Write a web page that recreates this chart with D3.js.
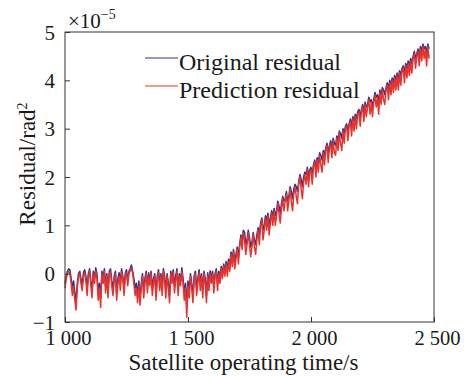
<!DOCTYPE html>
<html>
<head>
<meta charset="utf-8">
<script src="https://cdn.jsdelivr.net/npm/d3@7"></script>
<style>
  body { margin: 0; background: #fff; }
  text { font-family: "Liberation Serif", "Times New Roman", serif; fill: #1a1a1a; }
</style>
</head>
<body>
<div id="chart"></div>
<script>
// Time axis (s), sampled every 5 s
const times = d3.range(1000, 2481, 5);

// Residual values in units of 1e-5 rad^2
const originalResidual = [
  -0.2, -0.05, 0.05, 0.1, 0.08, -0.1, -0.3, -0.15, -0.4, -0.55,
  -0.2, 0.0, 0.05, -0.1, -0.25, 0.02, 0.08, -0.05, -0.3, 0.0,
  0.1, -0.15, -0.35, 0.05, -0.1, 0.12, 0.0, -0.4, -0.2, -0.5,
  0.05, -0.1, 0.1, -0.25, 0.0, -0.35, 0.05, 0.1, -0.15, -0.3,
  -0.05, 0.05, -0.4, -0.1, 0.02, -0.2, 0.1, -0.05, -0.3, 0.0,
  0.08, -0.15, 0.05, 0.1, 0.18, 0.05, -0.1, -0.3, -0.2, -0.45,
  -0.15, -0.5, -0.2, 0.0, -0.35, -0.1, 0.05, -0.25, 0.02, -0.15,
  0.05, -0.3, -0.1, 0.0, -0.4, -0.05, 0.08, -0.2, 0.0, -0.3,
  0.1, -0.05, -0.35, 0.0, -0.2, -0.45, 0.05, -0.1, 0.08, -0.25,
  -0.05, 0.1, -0.3, 0.0, -0.15, 0.12, -0.1, -0.4, -0.2, -0.65,
  -0.15, -0.35, 0.0, -0.2, -0.45, -0.05, 0.05, -0.3, -0.1, 0.08,
  -0.2, 0.0, -0.35, 0.05, -0.1, -0.45, 0.02, -0.2, 0.06, -0.1,
  0.05, -0.25, 0.0, 0.1, -0.2, 0.05, -0.1, 0.15, 0.0, 0.2,
  0.05, 0.25, 0.1, 0.3, 0.2, 0.45, 0.3, 0.5, 0.25, 0.4,
  0.55, 0.35, 0.6, 0.8, 0.65, 0.9, 0.85, 0.6, 0.7, 0.9,
  0.75, 0.55, 0.65, 0.85, 0.7, 0.6, 0.8, 0.95, 0.8, 1.05,
  1.15, 0.9, 1.0, 1.2, 1.1, 1.25, 1.0, 1.15, 1.3, 1.2,
  1.35, 1.2, 1.3, 1.5, 1.4, 1.25, 1.45, 1.6, 1.5, 1.55,
  1.7, 1.5, 1.6, 1.8, 1.7, 1.55, 1.75, 1.85, 1.8, 1.7,
  1.9, 2.05, 1.95, 1.8, 2.0, 2.1, 2.05, 2.2, 2.0, 2.15,
  2.2, 2.05, 2.25, 2.35, 2.2, 2.4, 2.3, 2.5, 2.45, 2.35,
  2.55, 2.45, 2.6, 2.7, 2.5, 2.65, 2.75, 2.6, 2.8, 2.7,
  2.65, 2.85, 2.75, 2.95, 2.9, 2.8, 3.0, 2.9, 3.05, 3.1,
  2.95, 3.1, 3.2, 3.05, 3.25, 3.15, 3.3, 3.2, 3.35, 3.4,
  3.25, 3.4, 3.5, 3.35, 3.55, 3.45, 3.5, 3.65, 3.55, 3.6,
  3.45, 3.6, 3.75, 3.65, 3.7, 3.55, 3.8, 3.7, 3.85, 3.8,
  3.7, 3.85, 3.95, 3.8, 4.0, 3.9, 4.05, 3.95, 4.1, 4.0,
  4.15, 4.0, 4.2, 4.1, 4.25, 4.3, 4.15, 4.35, 4.25, 4.4,
  4.3, 4.45, 4.35, 4.5, 4.6, 4.45, 4.55, 4.65, 4.5, 4.7,
  4.6, 4.75, 4.65, 4.7, 4.55, 4.75, 4.65
];

const predictionResidual = [
  -0.3, -0.1, 0.0, 0.05, 0.0, -0.2, -0.45, -0.25, -0.55, -0.75,
  -0.3, -0.05, 0.0, -0.2, -0.35, -0.05, 0.02, -0.15, -0.45, -0.05,
  0.05, -0.25, -0.5, 0.0, -0.2, 0.05, -0.1, -0.55, -0.3, -0.7,
  0.0, -0.2, 0.05, -0.4, -0.05, -0.5, 0.0, 0.05, -0.25, -0.45,
  -0.15, 0.0, -0.55, -0.2, -0.05, -0.35, 0.05, -0.1, -0.45, -0.05,
  0.02, -0.25, 0.0, 0.05, 0.12, 0.0, -0.2, -0.45, -0.3, -0.6,
  -0.25, -0.65, -0.3, -0.05, -0.5, -0.2, 0.0, -0.4, -0.05, -0.25,
  0.0, -0.45, -0.2, -0.05, -0.55, -0.15, 0.02, -0.35, -0.05, -0.45,
  0.05, -0.15, -0.5, -0.05, -0.3, -0.6, 0.0, -0.2, 0.02, -0.4,
  -0.15, 0.05, -0.45, -0.05, -0.25, 0.05, -0.2, -0.55, -0.3, -0.9,
  -0.25, -0.5, -0.05, -0.3, -0.6, -0.15, 0.0, -0.45, -0.2, 0.02,
  -0.35, -0.05, -0.5, 0.0, -0.2, -0.6, -0.05, -0.35, 0.0, -0.2,
  0.0, -0.4, -0.05, 0.05, -0.35, 0.0, -0.2, 0.1, -0.1, 0.15,
  -0.05, 0.2, -0.05, 0.25, 0.05, 0.4, 0.15, 0.45, 0.1, 0.3,
  0.5, 0.2, 0.55, 0.75, 0.5, 0.85, 0.7, 0.4, 0.6, 0.85,
  0.6, 0.35, 0.55, 0.8, 0.55, 0.4, 0.7, 0.9, 0.6, 1.0,
  1.1, 0.7, 0.9, 1.15, 0.9, 1.2, 0.8, 1.05, 1.25, 1.0,
  1.3, 1.0, 1.2, 1.45, 1.25, 1.05, 1.35, 1.55, 1.3, 1.5,
  1.65, 1.3, 1.5, 1.75, 1.5, 1.3, 1.65, 1.8, 1.6, 1.45,
  1.85, 2.0, 1.75, 1.55, 1.9, 2.05, 1.85, 2.15, 1.8, 2.1,
  2.15, 1.85, 2.2, 2.3, 2.0, 2.35, 2.1, 2.45, 2.25, 2.1,
  2.5, 2.25, 2.55, 2.65, 2.3, 2.6, 2.7, 2.4, 2.75, 2.5,
  2.45, 2.8, 2.55, 2.9, 2.7, 2.55, 2.95, 2.7, 3.0, 3.05,
  2.75, 3.05, 3.15, 2.85, 3.2, 2.95, 3.25, 3.0, 3.3, 3.35,
  3.05, 3.35, 3.45, 3.15, 3.5, 3.25, 3.45, 3.6, 3.3, 3.55,
  3.25, 3.55, 3.7, 3.45, 3.65, 3.3, 3.75, 3.5, 3.8, 3.6,
  3.5, 3.8, 3.9, 3.6, 3.95, 3.7, 4.0, 3.75, 4.05, 3.8,
  4.1, 3.8, 4.15, 3.9, 4.2, 4.25, 3.95, 4.3, 4.05, 4.35,
  4.1, 4.4, 4.15, 4.45, 4.55, 4.25, 4.5, 4.6, 4.3, 4.65,
  4.4, 4.7, 4.45, 4.65, 4.3, 4.7, 4.45
];

const xTicks = [1000, 1500, 2000, 2500];
const xTickLabels = ["1 000", "1 500", "2 000", "2 500"];
const yTicks = [-1, 0, 1, 2, 3, 4, 5];
const yTickLabels = ["\u22121", "0", "1", "2", "3", "4", "5"];

const width = 468, height = 376;
const margin = { top: 32, right: 34, bottom: 54, left: 65 };
const innerW = width - margin.left - margin.right;
const innerH = height - margin.top - margin.bottom;

const svg = d3.select("#chart")
  .append("svg")
  .attr("width", width)
  .attr("height", height);

const g = svg.append("g")
  .attr("transform", `translate(${margin.left},${margin.top})`);

const x = d3.scaleLinear().domain([1000, 2500]).range([0, innerW]);
const y = d3.scaleLinear().domain([-1, 5]).range([innerH, 0]);

// Series lines
const line = d3.line()
  .x((d, i) => x(times[i]))
  .y(d => y(d));

g.append("path")
  .datum(originalResidual)
  .attr("fill", "none")
  .attr("stroke", "#2a358f")
  .attr("stroke-width", 1.5)
  .attr("stroke-linejoin", "round")
  .attr("d", line);

g.append("path")
  .datum(predictionResidual)
  .attr("fill", "none")
  .attr("stroke", "#e8332c")
  .attr("stroke-width", 1.5)
  .attr("stroke-linejoin", "round")
  .attr("d", line);

// Box
g.append("rect")
  .attr("x", 0).attr("y", 0)
  .attr("width", innerW).attr("height", innerH)
  .attr("fill", "none")
  .attr("stroke", "#333")
  .attr("stroke-width", 1);

// Axes with inward ticks
const xAxis = d3.axisBottom(x)
  .tickValues(xTicks)
  .tickSize(-5)
  .tickFormat((d, i) => xTickLabels[i]);

const yAxis = d3.axisLeft(y)
  .tickValues(yTicks)
  .tickSize(-5)
  .tickFormat((d, i) => yTickLabels[i]);

const gx = g.append("g")
  .attr("transform", `translate(0,${innerH})`)
  .call(xAxis);
gx.select(".domain").remove();
gx.selectAll(".tick line").attr("stroke", "#333");
gx.selectAll(".tick text")
  .attr("y", 22.5)
  .attr("dx", 3)
  .attr("dy", 0)
  .style("font-size", "20.5px");

const gy = g.append("g").call(yAxis);
gy.select(".domain").remove();
gy.selectAll(".tick line").attr("stroke", "#333");
gy.selectAll(".tick text")
  .attr("x", -10)
  .attr("dy", "0.34em")
  .style("font-size", "21px");

// Axis titles
svg.append("text")
  .attr("x", margin.left + innerW / 2 - 6)
  .attr("y", 370)
  .attr("text-anchor", "middle")
  .style("font-size", "23px")
  .text("Satellite operating time/s");

const yl = svg.append("text")
  .attr("transform", `translate(35,164) rotate(-90)`)
  .attr("text-anchor", "middle")
  .style("font-size", "23px");
yl.append("tspan").text("Residual/rad");
yl.append("tspan").attr("dy", -8).style("font-size", "14px").text("2");

// Exponent label
const ex = svg.append("text")
  .attr("x", 68)
  .attr("y", 28)
  .style("font-size", "21px");
ex.append("tspan").text("\u00d710");
ex.append("tspan").attr("dy", -9).style("font-size", "14px").text("\u22125");

// Legend
const legendItems = [
  { label: "Original residual", color: "#2a358f" },
  { label: "Prediction residual", color: "#e8332c" }
];
const legend = svg.append("g");
legendItems.forEach((d, i) => {
  const yy = 58 + i * 28;
  legend.append("line")
    .attr("x1", 145).attr("x2", 178)
    .attr("y1", yy).attr("y2", yy)
    .attr("stroke", d.color)
    .attr("stroke-width", 1.2);
  legend.append("text")
    .attr("x", 179)
    .attr("y", yy + 12)
    .style("font-size", "24px")
    .text(d.label);
});
</script>
</body>
</html>
